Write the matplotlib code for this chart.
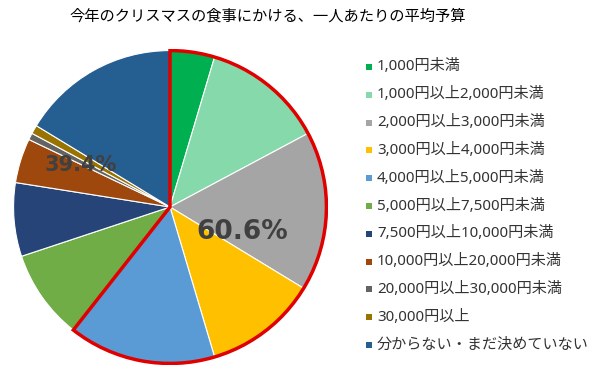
import matplotlib
matplotlib.use('Agg')
import matplotlib.pyplot as plt
from matplotlib.patches import Wedge, Rectangle

# 数字は幅の広い DejaVu、日本語は Noto Sans CJK JP
plt.rcParams['font.family'] = ['DejaVu Sans', 'Noto Sans CJK JP']

# 予算の区分と割合(%)
labels = ['1,000円未満', '1,000円以上2,000円未満', '2,000円以上3,000円未満',
          '3,000円以上4,000円未満', '4,000円以上5,000円未満', '5,000円以上7,500円未満',
          '7,500円以上10,000円未満', '10,000円以上20,000円未満', '20,000円以上30,000円未満',
          '30,000円以上', '分からない・まだ決めていない']
values = [4.6, 12.6, 16.5, 11.7, 15.2, 9.3, 7.6, 4.6, 0.7, 0.9, 16.3]
colors = ['#00B050', '#86D9AA', '#A5A5A5', '#FFC000', '#5B9BD5', '#70AD47',
          '#264478', '#9E480E', '#636363', '#997300', '#255E91']
group_labels = ['60.6%', '39.4%']
n_under5000 = 5

fig = plt.figure(figsize=(6.05, 3.83), dpi=100)
W, H = 605, 383

# 円グラフ
ax = fig.add_axes([12 / W, (H - 365) / H, 316 / W, 316 / H])
wedges, _ = ax.pie(values, colors=colors, startangle=90, counterclock=False,
                   radius=1, wedgeprops=dict(edgecolor='white', linewidth=0.8))
ax.set_xlim(-1.01, 1.01)
ax.set_ylim(-1.01, 1.01)
ax.set_aspect('equal')
ax.axis('off')

# 5,000円未満のグループを赤枠で囲む
share = sum(values[:n_under5000]) / sum(values)
ax.add_patch(Wedge((0, 0), 1, 90 - 360 * share, 90, facecolor='none',
                   edgecolor='#E00000', linewidth=2.5, zorder=5))

ax.text(0.46, -0.16, group_labels[0], fontsize=19, color='#404040',
        ha='center', va='center', zorder=6, fontweight='bold')
ax.text(-0.57, 0.27, group_labels[1], fontsize=15, color='#404040',
        ha='center', va='center', zorder=6, fontweight='bold')

# タイトル
fig.text(268 / W, 1 - 16 / H, '今年のクリスマスの食事にかける、一人あたりの平均予算',
         fontsize=11, ha='center', va='center', color='#000000')

# 凡例
y0, step = 67, 27.8
for i, (lab, c) in enumerate(zip(labels, colors)):
    y = y0 + i * step
    fig.patches.append(Rectangle(((369 - 3) / W, 1 - (y + 3) / H), 6 / W, 6 / H,
                                 transform=fig.transFigure, facecolor=c,
                                 edgecolor='none'))
    fig.text(377 / W, 1 - y / H, lab, fontsize=10.9, color='#333333',
             ha='left', va='center', family=['Noto Sans', 'Noto Sans CJK JP'])

fig.savefig('out.png', dpi=100)
